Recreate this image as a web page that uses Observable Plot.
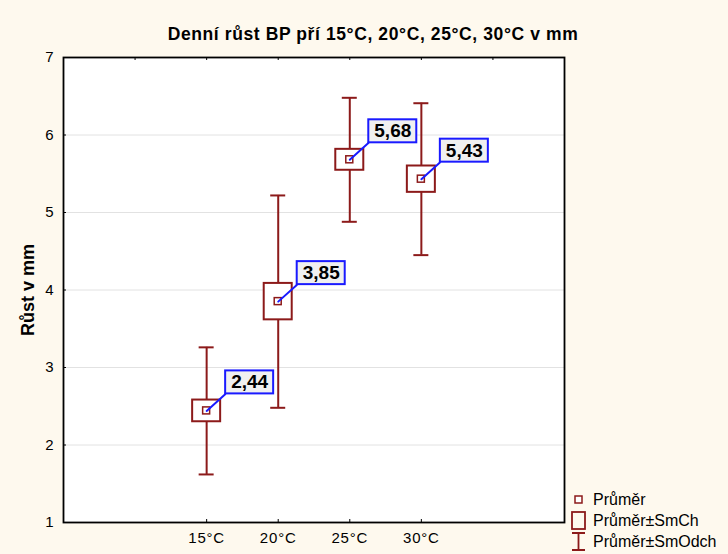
<!DOCTYPE html>
<html>
<head>
<meta charset="utf-8">
<script src="https://cdn.jsdelivr.net/npm/d3@7"></script>
<script src="https://cdn.jsdelivr.net/npm/@observablehq/plot@0.6"></script>
<style>
  html, body { margin: 0; padding: 0; background: #fef9ee; }
  #wrap { position: relative; width: 728px; height: 554px; font-family: "Liberation Sans", Arial, sans-serif; }
  #chart { position: absolute; left: 0; top: 0; }
  #title { position: absolute; left: 0; width: 746px; top: 24px; text-align: center; font-weight: bold; font-size: 17.5px; letter-spacing: 0.6px; color: #000; }
  #ylab { position: absolute; left: 28px; top: 290px; transform: translate(-50%, -50%) rotate(-90deg); font-weight: bold; font-size: 18px; white-space: nowrap; }
  #legend { position: absolute; left: 568px; top: 489px; font-size: 16px; }
  #legend .row { display: flex; align-items: center; height: 21px; }
  #legend svg { width: 22px; height: 21px; margin-right: 3px; }
  #chart svg g[aria-label="x-axis tick label"] text { letter-spacing: 0.8px; }
</style>
</head>
<body>
<div id="wrap">
  <div id="chart"></div>
  <div id="title">Denní růst BP pří 15°C, 20°C, 25°C, 30°C v mm</div>
  <div id="ylab">Růst v mm</div>
  <div id="legend">
    <div class="row"><svg><rect x="7" y="7" width="7" height="7" fill="#fff" stroke="#8c1a1a" stroke-width="1.5"/></svg>Průměr</div>
    <div class="row"><svg><rect x="4" y="2" width="13" height="17" fill="none" stroke="#8c1a1a" stroke-width="1.8"/></svg>Průměr±SmCh</div>
    <div class="row"><svg><path d="M4,2H17M10.5,2V19M4,19H17" fill="none" stroke="#8c1a1a" stroke-width="1.8"/></svg>Průměr±SmOdch</div>
  </div>
</div>
<script>
const categories = ["15°C", "20°C", "25°C", "30°C"];
const means = [2.44, 3.85, 5.68, 5.43];
const stdErr = [0.14, 0.235, 0.135, 0.17];
const stdDev = [0.82, 1.37, 0.80, 0.98];
const valueLabels = ["2,44", "3,85", "5,68", "5,43"];
const yTicks = [1, 2, 3, 4, 5, 6, 7];
const topTicks = [1, 2, 3, 4, 5, 6];

const dark = "#8c1a1a";
const data = categories.map((c, i) => ({
  cat: c, pos: i + 2, mean: means[i], se: stdErr[i], sd: stdDev[i], label: valueLabels[i]
}));

const leader = {
  draw(context, l) { context.moveTo(0, 0); context.lineTo(0, -l); }
};

const chart = Plot.plot({
  width: 728,
  height: 554,
  marginLeft: 63,
  marginRight: 164,
  marginTop: 57,
  marginBottom: 32,
  style: { background: "#fef9ee", fontFamily: "Liberation Sans, Arial, sans-serif", fontSize: "15px" },
  x: { domain: [0, 7] },
  y: { domain: [1, 7] },
  marks: [
    Plot.frame({ fill: "white", stroke: null }),
    Plot.ruleY(yTicks.slice(1, -1), { stroke: "#e2e2e2", strokeWidth: 1 }),
    Plot.ruleY(yTicks, { x1: 0, x2: 0, insetRight: -3, stroke: "#000" }),
    Plot.ruleX(data, { x: "pos", y1: 1, y2: 1, insetTop: -3, stroke: "#000" }),
    Plot.ruleX(topTicks, { x: d => d, y1: 7, y2: 7, insetBottom: -3, stroke: "#000" }),
    Plot.axisY(yTicks, { tickSize: 0, tickPadding: 10, fontSize: 15, fill: "#000", label: null, tickFormat: d => String(d) }),
    Plot.axisX(data.map(d => d.pos), { tickSize: 0, tickPadding: 10, fontSize: 15, fill: "#000", label: null,
      tickFormat: p => categories[p - 2] }),
    Plot.ruleX(data, { x: "pos", y1: d => d.mean - d.sd, y2: d => d.mean + d.sd, stroke: dark, strokeWidth: 2 }),
    Plot.ruleY(data, { x1: "pos", x2: "pos", y: d => d.mean + d.sd, insetLeft: -7.5, insetRight: -7.5, stroke: dark, strokeWidth: 2 }),
    Plot.ruleY(data, { x1: "pos", x2: "pos", y: d => d.mean - d.sd, insetLeft: -7.5, insetRight: -7.5, stroke: dark, strokeWidth: 2 }),
    Plot.rect(data, { x1: "pos", x2: "pos", y1: d => d.mean - d.se, y2: d => d.mean + d.se,
      insetLeft: -14, insetRight: -14, fill: "white", stroke: dark, strokeWidth: 2 }),
    Plot.rect(data, { x1: "pos", x2: "pos", y1: "mean", y2: "mean",
      insetLeft: -3.5, insetRight: -3.5, insetTop: -3.5, insetBottom: -3.5, fill: "white", stroke: dark, strokeWidth: 1.5 }),
    Plot.vector(data, { x: "pos", y: "mean", anchor: "start", length: 25, rotate: 48, shape: leader, stroke: "#1a1aff", strokeWidth: 2 }),
    Plot.rect(data, { x1: "pos", x2: "pos", y1: "mean", y2: "mean",
      insetLeft: -24, insetRight: -24, insetTop: -11.5, insetBottom: -11.5, dx: 43, dy: -28.5,
      fill: "#f0f0f0", stroke: "#1a1aff", strokeWidth: 2 }),
    Plot.text(data, { x: "pos", y: "mean", text: "label", dx: 43, dy: -28.5, fontSize: 19, fontWeight: "bold", fill: "#000" }),
    Plot.frame({ stroke: "#000", strokeWidth: 1.8 })
  ]
});
document.getElementById("chart").appendChild(chart);
</script>
</body>
</html>
